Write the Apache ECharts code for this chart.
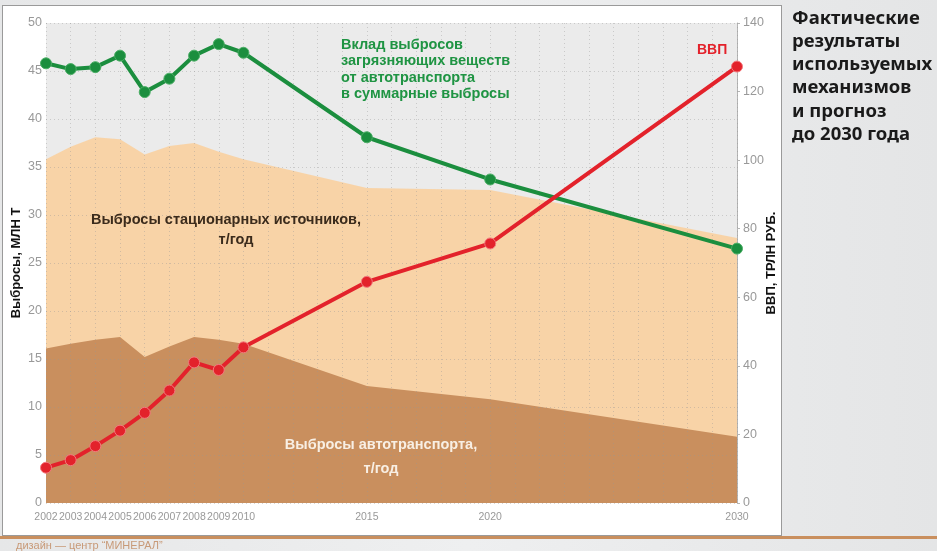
<!DOCTYPE html>
<html>
<head>
<meta charset="utf-8">
<script src="https://cdn.jsdelivr.net/npm/echarts@6/dist/echarts.min.js"></script>
<style>
  html, body { margin: 0; padding: 0; }
  body {
    width: 937px; height: 551px; overflow: hidden; position: relative;
    background: linear-gradient(90deg, #e6e7e8 0%, #eeeff0 50%, #e4e5e6 100%);
  }
  .panel {
    position: absolute; left: 2px; top: 5px; width: 778px; height: 529px;
    background: #fff; border: 1px solid #9a9a9a;
  }
  .strip {
    position: absolute; left: 0; top: 536px; width: 937px; height: 3px; background: #c98f5e;
  }
  #chart { position: absolute; left: 0; top: 0; width: 937px; height: 551px; }
</style>
</head>
<body>
<div class="panel"></div>
<div class="strip"></div>
<div id="chart"></div>
<script>
  // годы (ось X неравномерная, поэтому value-ось)
  var years = [2002, 2003, 2004, 2005, 2006, 2007, 2008, 2009, 2010, 2015, 2020, 2030];
  var yearLabels = [2002, 2003, 2004, 2005, 2006, 2007, 2008, 2009, 2010, 2015, 2020, 2030];
  // выбросы автотранспорта, млн т
  var transport = [16.1, 16.6, 17.0, 17.3, 15.2, 16.3, 17.3, 17.0, 16.6, 12.2, 10.8, 6.9];
  // выбросы стационарных источников, млн т (лежат поверх автотранспорта)
  var stationary = [19.7, 20.5, 21.1, 20.6, 21.1, 20.9, 20.2, 19.6, 19.2, 20.6, 21.8, 20.7];
  // вклад автотранспорта в суммарные выбросы
  var share = [45.8, 45.2, 45.4, 46.6, 42.8, 44.2, 46.6, 47.8, 46.9, 38.1, 33.7, 26.5];
  // ВВП, трлн руб.
  var gdp = [10.3, 12.5, 16.6, 21.1, 26.3, 32.8, 41.0, 38.8, 45.4, 64.5, 75.7, 127.3];

  function pairs(vals) {
    return years.map(function (y, i) { return [y, vals[i]]; });
  }
  // stack по value-оси X не работает, поэтому сумму считаем сами
  var total = transport.map(function (v, i) { return +(v + stationary[i]).toFixed(2); });

  var titleLines = ['Фактические', 'результаты', 'используемых', 'механизмов', 'и прогноз', 'до 2030 года'];
  var greenLines = ['Вклад выбросов', 'загрязняющих веществ', 'от автотранспорта', 'в суммарные выбросы'];
  var boldFont = 'bold 14.5px "Liberation Sans", Arial, sans-serif';

  var graphics = [];
  titleLines.forEach(function (t, i) {
    graphics.push({
      type: 'text', left: 792, top: 9 + i * 23.2, z: 100,
      style: { text: t, font: 'bold 18.5px "Noto Sans", sans-serif', fill: '#1a1a1a' }
    });
  });
  greenLines.forEach(function (t, i) {
    graphics.push({
      type: 'text', left: 341, top: 37 + i * 16.5, z: 100,
      style: { text: t, font: boldFont, fill: '#1f9443' }
    });
  });
  graphics.push(
    { type: 'text', left: 697, top: 43, z: 100, style: { text: 'ВВП', font: 'bold 14px "Liberation Sans", Arial, sans-serif', fill: '#e3222b' } },
    { type: 'text', x: 226, y: 220, z: 100, style: { text: 'Выбросы стационарных источников,', font: boldFont, fill: '#3b2b1c', align: 'center', verticalAlign: 'middle' } },
    { type: 'text', x: 236, y: 240, z: 100, style: { text: 'т/год', font: boldFont, fill: '#3b2b1c', align: 'center', verticalAlign: 'middle' } },
    { type: 'text', x: 381, y: 445, z: 100, style: { text: 'Выбросы автотранспорта,', font: boldFont, fill: '#f8efe4', align: 'center', verticalAlign: 'middle' } },
    { type: 'text', x: 381, y: 469, z: 100, style: { text: 'т/год', font: boldFont, fill: '#f8efe4', align: 'center', verticalAlign: 'middle' } },
    { type: 'text', left: 16, top: 540, z: 100, style: { text: 'дизайн — центр “МИНЕРАЛ”', font: '11px "Liberation Sans", Arial, sans-serif', fill: '#c89a78' } }
  );

  var gridLine = { show: true, lineStyle: { type: [1, 3], color: 'rgba(150,150,150,0.4)', width: 1 } };

  var option = {
    animation: false,
    backgroundColor: 'transparent',
    grid: {
      left: 46, right: 200, top: 23, bottom: 48,
      outerBoundsMode: 'none',
      show: true, backgroundColor: '#ebebeb', borderWidth: 0
    },
    xAxis: {
      type: 'value', min: 2002, max: 2030, interval: 1, z: 3,
      axisLine: { show: false },
      axisTick: { show: false },
      axisLabel: {
        color: '#999', fontSize: 10.5, margin: 9,
        fontFamily: '"Liberation Sans", Arial, sans-serif',
        formatter: function (v) { return yearLabels.indexOf(v) >= 0 ? String(v) : ''; }
      },
      splitLine: gridLine
    },
    yAxis: [
      {
        type: 'value', min: 0, max: 50, interval: 5, z: 3,
        name: 'Выбросы, МЛН Т', nameLocation: 'middle', nameGap: 23, nameRotate: 90,
        nameMoveOverlap: false,
        nameTextStyle: { color: '#111', fontSize: 13, fontWeight: 'bold', fontFamily: '"Liberation Sans", Arial, sans-serif' },
        axisLine: { show: false },
        axisTick: { show: false },
        axisLabel: { color: '#999', fontSize: 12.5, margin: 4, fontFamily: '"Liberation Sans", Arial, sans-serif' },
        splitLine: gridLine
      },
      {
        type: 'value', min: 0, max: 140, interval: 20, position: 'right',
        name: 'ВВП, ТРЛН РУБ.', nameLocation: 'middle', nameGap: 28, nameRotate: 90,
        nameMoveOverlap: false,
        nameTextStyle: { color: '#111', fontSize: 13, fontWeight: 'bold', fontFamily: '"Liberation Sans", Arial, sans-serif' },
        axisLine: { show: true, lineStyle: { color: '#b5b5b5', width: 1 } },
        axisTick: { show: true, length: 3, lineStyle: { color: '#b5b5b5' } },
        axisLabel: { color: '#999', fontSize: 12.5, margin: 6, fontFamily: '"Liberation Sans", Arial, sans-serif' },
        splitLine: { show: false }
      }
    ],
    series: [
      {
        name: 'Выбросы стационарных источников', type: 'line', yAxisIndex: 0,
        data: pairs(total), symbol: 'none', lineStyle: { width: 0 },
        areaStyle: { color: '#f9d2a3', opacity: 0.95 }, z: 1
      },
      {
        name: 'Выбросы автотранспорта', type: 'line', yAxisIndex: 0,
        data: pairs(transport), symbol: 'none', lineStyle: { width: 0 },
        areaStyle: { color: '#c98f5e', opacity: 1 }, z: 2
      },
      {
        name: 'Вклад выбросов', type: 'line', yAxisIndex: 0,
        data: pairs(share), symbol: 'circle', symbolSize: 11,
        lineStyle: { color: '#1b8e3e', width: 4 },
        itemStyle: { color: '#1b8e3e', borderColor: '#4cae66', borderWidth: 1 }, z: 5
      },
      {
        name: 'ВВП', type: 'line', yAxisIndex: 1,
        data: pairs(gdp), symbol: 'circle', symbolSize: 11,
        lineStyle: { color: '#e3222b', width: 4 },
        itemStyle: { color: '#e3222b', borderColor: '#f27a7e', borderWidth: 1 }, z: 6
      }
    ],
    graphic: graphics
  };

  var myChart = echarts.init(document.getElementById('chart'), null, { renderer: 'canvas' });
  myChart.setOption(option);
</script>
</body>
</html>
